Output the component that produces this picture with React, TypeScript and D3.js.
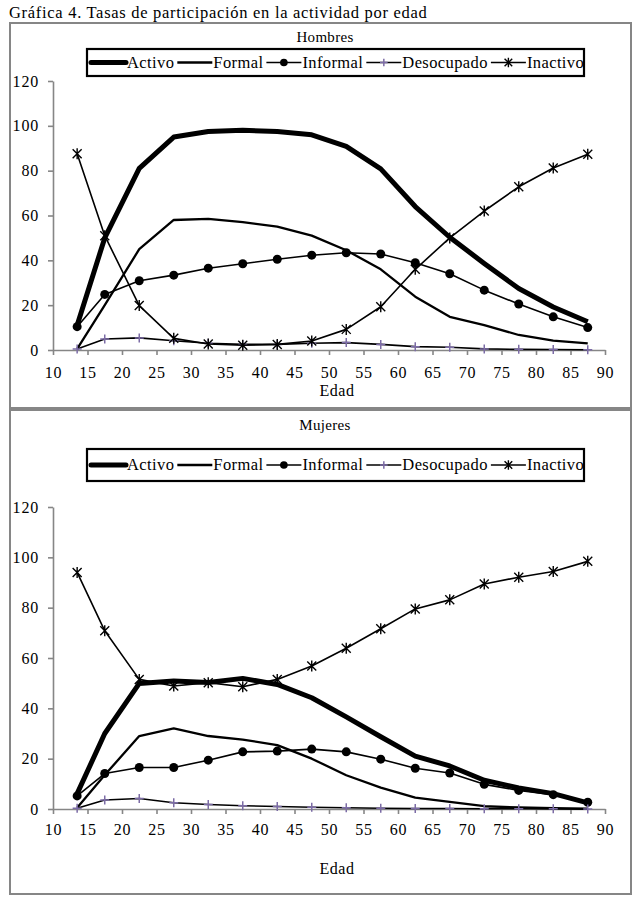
import React, { useEffect, useRef } from 'react';
import * as d3 from 'd3';

// Edad (punto medio de cada grupo)
const edades = [13.5, 17.5, 22.5, 27.5, 32.5, 37.5, 42.5, 47.5, 52.5, 57.5, 62.5, 67.5, 72.5, 77.5, 82.5, 87.5];

// Hombres
const hActivo = [11, 50, 81, 95, 97.5, 98, 97.5, 96, 90.8, 80.8, 64, 50.3, 38.6, 27.4, 19.2, 12.6];
const hFormal = [0.5, 20, 45, 58, 58.5, 57, 55, 51, 44.5, 36, 23.8, 14.8, 11.1, 6.7, 4.2, 3];
const hInformal = [10.4, 24.8, 30.9, 33.4, 36.5, 38.5, 40.5, 42.3, 43.4, 42.8, 38.9, 34, 26.7, 20.5, 14.8, 10];
const hDesocupado = [0.5, 4.9, 5.4, 4.1, 3, 2.5, 2.5, 3, 3.3, 2.5, 1.5, 1.2, 0.5, 0.3, 0.2, 0.1];
const hInactivo = [87.5, 51, 19.8, 5.2, 2.7, 2.1, 2.5, 4, 9.2, 19.3, 36, 50, 62, 72.8, 81.2, 87.3];

// Mujeres
const mActivo = [6.1, 30, 49.9, 50.9, 50.3, 51.9, 49.5, 44.2, 36.6, 28.7, 21, 17.1, 11.4, 8.4, 6.1, 2.4];
const mFormal = [0.5, 13.5, 29, 32, 29, 27.6, 25.4, 20, 13.4, 8.5, 4.5, 2.8, 1.1, 0.6, 0.3, 0.1];
const mInformal = [5.2, 14.1, 16.5, 16.5, 19.4, 22.7, 23, 23.8, 22.7, 19.8, 16.2, 14.3, 9.8, 7.4, 5.7, 2.7];
const mDesocupado = [0.3, 3.6, 4.2, 2.5, 1.8, 1.3, 1, 0.7, 0.5, 0.3, 0.2, 0.2, 0.1, 0.1, 0.1, 0];
const mInactivo = [94, 70.8, 51.5, 48.9, 50.2, 48.6, 51.5, 56.8, 63.9, 71.6, 79.5, 83.1, 89.4, 92.1, 94.4, 98.4];

const seriesNames = ['Activo', 'Formal', 'Informal', 'Desocupado', 'Inactivo'];
const xTicks = [10, 15, 20, 25, 30, 35, 40, 45, 50, 55, 60, 65, 70, 75, 80, 85, 90];
const yTicks = [0, 20, 40, 60, 80, 100, 120];

const SERIF = "'Liberation Serif', serif";
const AXIS_GRAY = '#868686';
const PURPLE = '#7c6ca6';

type Style = { width: number; marker: 'none' | 'circle' | 'plus' | 'star' };
const STYLES: Style[] = [
  { width: 5, marker: 'none' },
  { width: 2.3, marker: 'none' },
  { width: 1.6, marker: 'circle' },
  { width: 1.6, marker: 'plus' },
  { width: 1.6, marker: 'star' },
];

interface Panel {
  title: string;
  series: number[][];
  box: [number, number, number, number];
  titleY: number;
  legend: [number, number, number, number];
  plotTop: number;
  plotBottom: number;
  tickY: number;
  edadY: number;
}

const panels: Panel[] = [
  {
    title: 'Hombres',
    series: [hActivo, hFormal, hInformal, hDesocupado, hInactivo],
    box: [10, 23, 631, 408],
    titleY: 42,
    legend: [87, 49, 584, 76],
    plotTop: 81,
    plotBottom: 350,
    tickY: 372,
    edadY: 390,
  },
  {
    title: 'Mujeres',
    series: [mActivo, mFormal, mInformal, mDesocupado, mInactivo],
    box: [10, 410, 631, 894],
    titleY: 430,
    legend: [87, 449, 584, 481],
    plotTop: 507,
    plotBottom: 809,
    tickY: 829,
    edadY: 868,
  },
];

function drawMarker(g: d3.Selection<SVGGElement, unknown, null, undefined>, kind: Style['marker'], x: number, y: number, scale = 1) {
  if (kind === 'circle') {
    g.append('circle').attr('cx', x).attr('cy', y).attr('r', 4.5 * scale).attr('fill', '#000');
  } else if (kind === 'plus') {
    const s = 4.5 * scale;
    g.append('path')
      .attr('d', `M${x - s},${y}H${x + s}M${x},${y - s}V${y + s}`)
      .attr('stroke', PURPLE).attr('stroke-width', 1.5).attr('fill', 'none');
  } else if (kind === 'star') {
    const s = 4.5 * scale;
    g.append('path')
      .attr('d', `M${x - s},${y - s}L${x + s},${y + s}M${x - s},${y + s}L${x + s},${y - s}M${x},${y - s - 1}V${y + s + 1}`)
      .attr('stroke', '#000').attr('stroke-width', 1.4).attr('fill', 'none');
  }
}

export default function App() {
  const svgRef = useRef<SVGSVGElement>(null);

  useEffect(() => {
    if (!svgRef.current) return;
    const svg = d3.select(svgRef.current);
    svg.selectAll('*').remove();

    svg.append('text')
      .attr('x', 9).attr('y', 18)
      .attr('font-family', SERIF).attr('font-size', 16.5)
      .style('letter-spacing', '0.7px')
      .text('Gráfica 4. Tasas de participación en la actividad por edad');

    panels.forEach((p, pi) => {
      const g = svg.append('g');
      const [bx0, by0, bx1, by1] = p.box;
      g.append('rect')
        .attr('x', bx0).attr('y', by0).attr('width', bx1 - bx0).attr('height', by1 - by0)
        .attr('fill', '#fff').attr('stroke', AXIS_GRAY).attr('stroke-width', 2);

      g.append('text')
        .attr('x', 325).attr('y', p.titleY)
        .attr('text-anchor', 'middle')
        .attr('font-family', SERIF).attr('font-size', 15)
        .style('letter-spacing', '0.3px')
        .text(p.title);

      const x = d3.scaleLinear().domain([10, 90]).range([53, 605]);
      const y = d3.scaleLinear().domain([0, 120]).range([p.plotBottom, p.plotTop]);

      // Axes
      const yAxis = g.append('g')
        .attr('transform', `translate(${x(10)},0)`)
        .call(d3.axisLeft(y).tickValues(yTicks).tickSize(5).tickSizeOuter(0).tickPadding(9));
      const xAxis = g.append('g')
        .attr('transform', `translate(0,${y(0)})`)
        .call(d3.axisBottom(x).tickValues(xTicks).tickSize(5).tickSizeOuter(0).tickPadding(0));
      [yAxis, xAxis].forEach(a => {
        a.select('.domain').attr('stroke', AXIS_GRAY).attr('stroke-width', 1.6);
        a.selectAll('.tick line').attr('stroke', AXIS_GRAY).attr('stroke-width', 1.6);
        a.selectAll('.tick text')
          .attr('fill', '#000')
          .attr('font-family', SERIF).attr('font-size', 16)
          .style('letter-spacing', '0.8px');
      });
      xAxis.selectAll('.tick text').attr('y', p.tickY - y(0)).attr('dy', '0.35em');

      g.append('text')
        .attr('x', 337).attr('y', p.edadY).attr('dy', '0.35em')
        .attr('text-anchor', 'middle')
        .attr('font-family', SERIF).attr('font-size', 16)
        .style('letter-spacing', '0.5px')
        .text('Edad');

      // Series
      p.series.forEach((vals, i) => {
        const st = STYLES[i];
        const pts = edades.map((a, j) => [x(a), y(vals[j])] as [number, number]);
        g.append('path')
          .attr('d', d3.line()(pts))
          .attr('fill', 'none')
          .attr('stroke', '#000')
          .attr('stroke-width', st.width)
          .attr('stroke-linejoin', 'round');
        const mg = g.append('g');
        pts.forEach(([px, py]) => drawMarker(mg, st.marker, px, py));
      });

      // Legend
      const [lx0, ly0, lx1, ly1] = p.legend;
      const clipId = `legend-clip-${pi}`;
      svg.append('clipPath').attr('id', clipId)
        .append('rect').attr('x', lx0).attr('y', ly0).attr('width', lx1 - lx0).attr('height', ly1 - ly0);
      g.append('rect')
        .attr('x', lx0).attr('y', ly0).attr('width', lx1 - lx0).attr('height', ly1 - ly0)
        .attr('fill', '#fff');
      const items = g.append('g').attr('clip-path', `url(#${clipId})`);
      const ly = (ly0 + ly1) / 2;
      let cx = lx0 + 4;
      seriesNames.forEach((name, i) => {
        const st = STYLES[i];
        const lg = items.append('g');
        lg.append('line')
          .attr('x1', cx).attr('x2', cx + 35).attr('y1', ly).attr('y2', ly)
          .attr('stroke', '#000').attr('stroke-width', st.width)
          .attr('stroke-linecap', i === 0 ? 'round' : 'butt');
        drawMarker(lg, st.marker, cx + 17.5, ly, 0.85);
        const t = lg.append('text')
          .attr('x', cx + 36).attr('y', ly).attr('dy', '0.33em')
          .attr('font-family', SERIF).attr('font-size', 16.5)
          .style('letter-spacing', '0.4px')
          .text(name);
        const w = (t.node() as SVGTextElement).getComputedTextLength();
        cx += 36 + w + 3;
      });
      g.append('rect')
        .attr('x', lx0).attr('y', ly0).attr('width', lx1 - lx0).attr('height', ly1 - ly0)
        .attr('fill', 'none').attr('stroke', '#000').attr('stroke-width', 2.2);
    });
  }, []);

  return (
    <div style={{ position: 'absolute', left: 0, top: 0, width: 638, height: 904, background: '#fff' }}>
      <svg ref={svgRef} width={638} height={904} style={{ display: 'block' }} />
    </div>
  );
}
